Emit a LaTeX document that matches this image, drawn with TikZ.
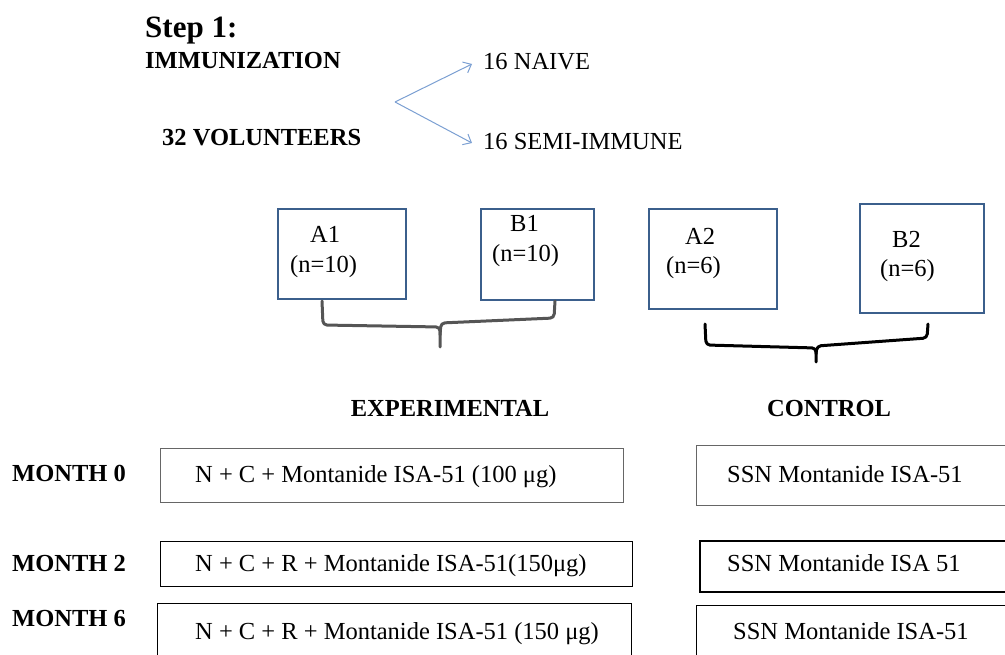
\documentclass[tikz,border=0pt]{standalone}
\usepackage{fontspec}
\setmainfont{Liberation Serif}
\usetikzlibrary{arrows.meta}
\definecolor{boxblue}{HTML}{3B5F8C}
\definecolor{arrowblue}{HTML}{7B9FD2}
\definecolor{bracegray}{HTML}{555555}
\tikzset{
  x=1pt, y=-1pt,
  reg/.style={font=\fontsize{24.5}{28}\selectfont, inner sep=0pt, anchor=base west},
  bld/.style={font=\fontsize{24.5}{28}\selectfont\bfseries, inner sep=0pt, anchor=base west},
  grpbox/.style={draw=boxblue, line width=2pt},
  dosebox/.style={draw=black, line width=1pt},
  splitarrow/.style={draw=arrowblue, line width=1pt, -{Straight Barb[length=7pt,width=12pt]}},
  bracestyle/.style={line width=3pt, line cap=round, line join=round, rounded corners=4pt}
}
\begin{document}
\begin{tikzpicture}
\useasboundingbox (0,0) rectangle (1005,655);
% header
\node[bld, font=\fontsize{31}{36}\selectfont\bfseries] (step) at (145,38) {Step 1:};
\node[bld] (immun) at (145,69) {IMMUNIZATION};
\node[bld] (vol) at (162,146) {32 VOLUNTEERS};
\node[reg] (naive) at (483,70) {16 NAIVE};
\node[reg] (semi) at (483,150) {16 SEMI-IMMUNE};
\coordinate (split) at (395,102);
\draw[splitarrow] (split) -- (472,64) coordinate (na);
\draw[splitarrow] (split) -- (472,143) coordinate (sa);
% group boxes
\draw[grpbox] (278,209) rectangle (406,299);
\node[reg] (a1) at (310,243) {A1};
\node[reg] (a1n) at (290,273) {(n=10)};
\draw[grpbox] (481,209) rectangle (594,300);
\node[reg] (b1) at (510,232) {B1};
\node[reg] (b1n) at (492,262) {(n=10)};
\draw[grpbox] (649,209) rectangle (777,309);
\node[reg] (a2) at (685,245) {A2};
\node[reg] (a2n) at (666,274) {(n=6)};
\draw[grpbox] (860,204) rectangle (984,313);
\node[reg] (b2) at (892,248) {B2};
\node[reg] (b2n) at (880,277) {(n=6)};
% braces
\draw[bracestyle, draw=bracegray] (322,301) -- (323,325) -- (440,327) -- (440,347);
\draw[bracestyle, draw=bracegray] (440,335) -- (441,323) -- (554,318) -- (555,301);
\draw[bracestyle, draw=black] (705,324) -- (706,345) -- (816,348) -- (816,362);
\draw[bracestyle, draw=black] (816,354) -- (817,346) -- (927,338) -- (928,324);
% group labels
\node[bld, anchor=base] (exp) at (450,416) {EXPERIMENTAL};
\node[bld, anchor=base] (ctl) at (829,416) {CONTROL};
% months
\node[bld] (m0) at (12,481) {MONTH 0};
\node[bld] (m2) at (12,571) {MONTH 2};
\node[bld] (m6) at (12,626) {MONTH 6};
\draw[dosebox, draw=black!60] (160,448) rectangle (623,502);
\node[reg] (e0) at (195,482) {N + C + Montanide ISA-51 (100 μg)};
\draw[dosebox] (160,541) rectangle (632,586);
\node[reg] (e2) at (195,571) {N + C + R + Montanide ISA-51(150μg)};
\draw[dosebox] (157,603) rectangle (631,660);
\node[reg] (e6) at (195,639) {N + C + R + Montanide ISA-51 (150 μg)};
\draw[dosebox, draw=black!60] (696,445) rectangle (1010,505);
\node[reg] (c0) at (727,482) {SSN Montanide ISA-51};
\draw[dosebox, line width=2pt] (700,541) rectangle (1010,592);
\node[reg] (c2) at (727,571) {SSN Montanide ISA 51};
\draw[dosebox] (696,605) rectangle (1010,660);
\node[reg] (c6) at (733,639) {SSN Montanide ISA-51};
\end{tikzpicture}
\end{document}
